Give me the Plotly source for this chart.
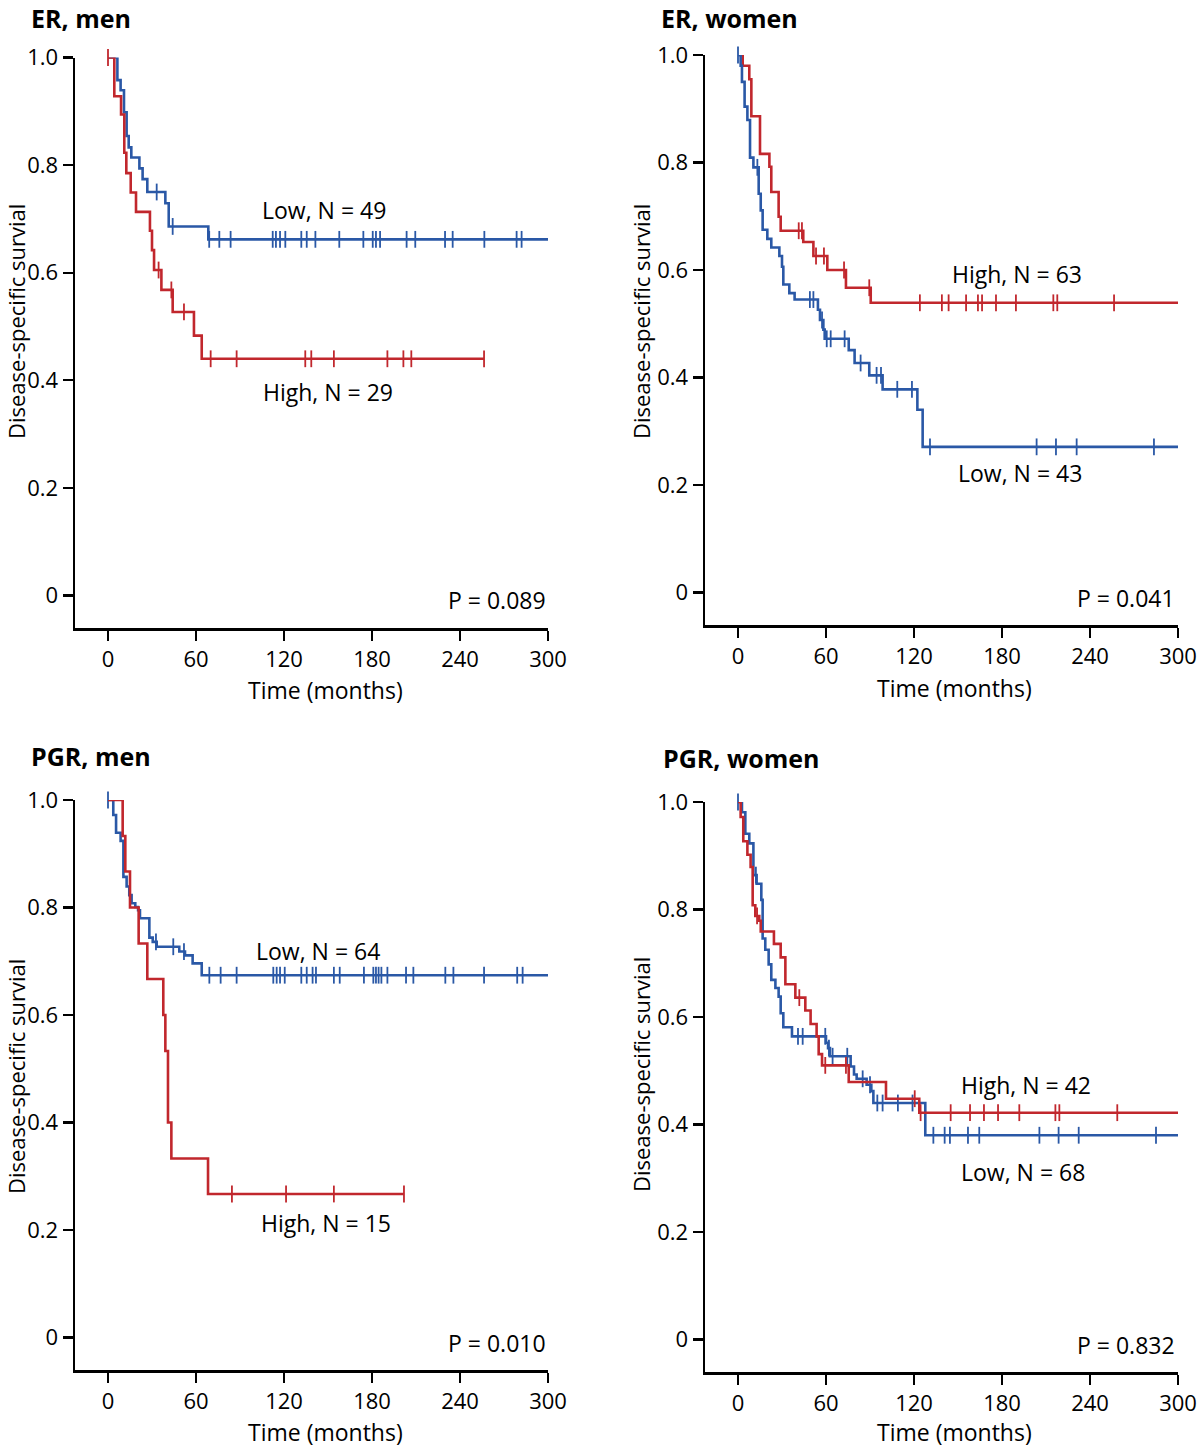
import bisect
import plotly.graph_objects as go

# ---------------- data ----------------
# ER, men
er_men_low_t = [0, 6.4, 8.6, 10.9, 12.7, 14.1, 15.9, 21.4, 23.6, 26.8, 39.1, 41.4, 68.4, 300]
er_men_low_s = [1.0, 0.958, 0.939, 0.898, 0.854, 0.833, 0.814, 0.794, 0.774, 0.750, 0.729, 0.686, 0.662, 0.662]
er_men_low_c = [33.2, 44.1, 69, 75.9, 83.6, 112.3, 114.5, 117.3, 120.9, 131.8, 135.5, 141.4, 157.7,
                174.1, 180.5, 182.7, 185.5, 203.6, 209.5, 229.8, 235, 256.6, 278.6, 282]
er_men_high_t = [0, 4.3, 8.9, 11.1, 12.5, 15.5, 19.1, 28.6, 30.0, 31.4, 36.4, 44.1, 58.6, 63.9, 256.4]
er_men_high_s = [1.0, 0.928, 0.894, 0.823, 0.785, 0.749, 0.713, 0.678, 0.642, 0.605, 0.568, 0.527, 0.483, 0.440, 0.440]
er_men_high_c = [0, 34.5, 43.2, 51.8, 70, 87.7, 134.5, 138.6, 154, 190.5, 201.4, 206.8, 256.4]

# ER, women
er_women_high_t = [0, 3.2, 7.7, 9.1, 15.0, 21.4, 22.7, 27.7, 29.1, 44.5, 51.4, 60.9, 73.6, 90.5, 300]
er_women_high_s = [1.0, 0.980, 0.955, 0.886, 0.816, 0.792, 0.745, 0.699, 0.673, 0.652, 0.626, 0.600, 0.567, 0.539, 0.539]
er_women_high_c = [41.4, 43.6, 53.2, 58.6, 72.3, 89.5, 124, 139, 143.6, 155.5, 163.6, 166.4, 175.9,
                   189.5, 215, 217.7, 256.4]
er_women_low_t = [0, 1.8, 2.7, 4.5, 6.4, 8.2, 10.5, 14.1, 15.5, 16.8, 20.0, 22.7, 28.2, 30.0, 30.9, 35.0,
                  38.6, 54.5, 55.9, 58.2, 59.1, 75.5, 79.5, 89.5, 98.6, 122.3, 125.9, 300]
er_women_low_s = [1.0, 0.980, 0.950, 0.904, 0.879, 0.809, 0.791, 0.742, 0.711, 0.675, 0.658, 0.642, 0.626,
                  0.606, 0.573, 0.557, 0.545, 0.526, 0.507, 0.489, 0.472, 0.451, 0.427, 0.404, 0.378,
                  0.340, 0.271, 0.271]
er_women_low_c = [0, 13.2, 49, 51.4, 57.3, 60.5, 63.2, 72.7, 83.6, 94.5, 97.5, 108.6, 118.6, 130.9,
                  203.6, 216.8, 230.9, 283.6]

# PGR, men
pgr_men_low_t = [0, 3.6, 5.5, 8.6, 10.5, 12.7, 14.5, 16.1, 18.6, 20.5, 21.8, 28.2, 30.5, 33.2, 48.6,
                 52.5, 57.7, 63.9, 300]
pgr_men_low_s = [1.0, 0.972, 0.939, 0.924, 0.857, 0.839, 0.823, 0.808, 0.801, 0.795, 0.780, 0.744,
                 0.736, 0.727, 0.718, 0.711, 0.696, 0.674, 0.674]
pgr_men_low_c = [0, 32.7, 44.5, 51.8, 69.1, 76.8, 87.7, 112.7, 115, 117.3, 120.5, 131.8, 135.5, 139.5,
                 141.8, 154, 158, 174.5, 180.9, 182.7, 184.5, 186.4, 190.5, 203.2, 208.2, 230, 235.5,
                 256.4, 279, 282.7]
pgr_men_high_t = [0, 10.0, 11.8, 15.0, 20.9, 26.8, 37.7, 39.1, 40.9, 43.2, 68.2, 201.8]
pgr_men_high_s = [1.0, 0.933, 0.867, 0.800, 0.733, 0.667, 0.600, 0.533, 0.400, 0.333, 0.267, 0.267]
pgr_men_high_c = [84.5, 121.4, 154, 201.8]

# PGR, women
pgr_women_high_t = [0, 1.8, 3.6, 6.4, 8.6, 10.0, 11.8, 14.5, 15.5, 24.5, 29.1, 32.3, 39.1, 45.9, 49.5,
                    53.6, 55.0, 57.3, 75.5, 100.9, 123.6, 300]
pgr_women_high_s = [1.0, 0.972, 0.927, 0.902, 0.879, 0.808, 0.788, 0.779, 0.759, 0.736, 0.711, 0.661,
                    0.636, 0.612, 0.587, 0.564, 0.531, 0.510, 0.479, 0.448, 0.422, 0.422]
pgr_women_high_c = [13, 41.8, 59.5, 73.6, 120.5, 124.5, 145, 158.2, 167.7, 177.3, 191.8, 216.4, 219.1,
                    258.6]
pgr_women_low_t = [0, 2.7, 5.0, 7.7, 10.5, 12.7, 15.9, 16.8, 18.6, 20.9, 22.7, 25.5, 27.7, 29.1, 30.9,
                   36.8, 60.0, 61.4, 62.7, 76.8, 79.1, 80.9, 87.7, 90.9, 92.3, 127.7, 300]
pgr_women_low_s = [1.0, 0.981, 0.941, 0.923, 0.864, 0.848, 0.818, 0.746, 0.725, 0.698, 0.669, 0.654,
                   0.638, 0.607, 0.581, 0.564, 0.552, 0.542, 0.527, 0.508, 0.493, 0.485, 0.474, 0.462,
                   0.440, 0.380, 0.380]
pgr_women_low_c = [0, 12.2, 40.9, 44.1, 59.5, 62, 64.5, 74.5, 85, 90, 95, 98.6, 109, 119, 133.2, 140.9,
                   144.5, 156.8, 164.5, 205.5, 218.6, 232.3, 285]

panel_titles = ["ER, men", "ER, women", "PGR, men", "PGR, women"]
p_values = ["P = 0.089", "P = 0.041", "P = 0.010", "P = 0.832"]
x_ticks = [0, 60, 120, 180, 240, 300]
y_ticks = [0, 0.2, 0.4, 0.6, 0.8, 1.0]
y_tick_text = ["0", "0.2", "0.4", "0.6", "0.8", "1.0"]

RED = "#C1272D"
BLUE = "#2A58A6"
FONT = "Open Sans, Noto Sans, sans-serif"
W, H = 1200, 1448


def fx(px):
    return px / W


def fy(py):
    return 1 - py / H


# title: (left x, top y); ylab: (left x, centre y)
panels = [
    dict(curves=[(er_men_low_t, er_men_low_s, er_men_low_c, BLUE),
                 (er_men_high_t, er_men_high_s, er_men_high_c, RED)],
         box=(75, 548, 57.5, 628), labels=[("Low, N = 49", 324, 210), ("High, N = 29", 328, 392)],
         title=(30, 0), ylab=(0, 322), xlab=(325, 690), p=(548, 600)),
    dict(curves=[(er_women_high_t, er_women_high_s, er_women_high_c, RED),
                 (er_women_low_t, er_women_low_s, er_women_low_c, BLUE)],
         box=(705, 1178, 55, 625), labels=[("High, N = 63", 1017, 274), ("Low, N = 43", 1020, 473)],
         title=(660, 0), ylab=(625, 322), xlab=(954, 688), p=(1177, 598)),
    dict(curves=[(pgr_men_low_t, pgr_men_low_s, pgr_men_low_c, BLUE),
                 (pgr_men_high_t, pgr_men_high_s, pgr_men_high_c, RED)],
         box=(75, 548, 800, 1370), labels=[("Low, N = 64", 318, 951), ("High, N = 15", 326, 1223)],
         title=(30, 738), ylab=(0, 1077), xlab=(325, 1432), p=(548, 1343)),
    dict(curves=[(pgr_women_low_t, pgr_women_low_s, pgr_women_low_c, BLUE),
                 (pgr_women_high_t, pgr_women_high_s, pgr_women_high_c, RED)],
         box=(705, 1178, 802, 1372), labels=[("High, N = 42", 1026, 1085), ("Low, N = 68", 1023, 1172)],
         title=(662, 740), ylab=(625, 1075), xlab=(955, 1432), p=(1177, 1345)),
]


def step_value(ts, ss, t):
    i = bisect.bisect_right(ts, t) - 1
    return ss[max(i, 0)]


fig = go.Figure()
annotations = []
layout = {}

for k, pn in enumerate(panels):
    idx = "" if k == 0 else str(k + 1)
    xa, ya = "x" + idx, "y" + idx
    for ts, ss, cs, col in pn["curves"]:
        fig.add_trace(go.Scatter(x=ts, y=ss, mode="lines", line=dict(color=col, width=2.6, shape="hv"),
                                 xaxis=xa, yaxis=ya, showlegend=False, cliponaxis=False,
                                 hoverinfo="skip"))
        fig.add_trace(go.Scatter(x=cs, y=[step_value(ts, ss, c) for c in cs], mode="markers",
                                 marker=dict(symbol="line-ns-open", size=12, color=col,
                                             line=dict(color=col, width=1.8)),
                                 xaxis=xa, yaxis=ya, showlegend=False, cliponaxis=False,
                                 hoverinfo="skip"))
    x0, x1, ytop, ybot = pn["box"]
    zero_px = ybot - 32.5
    ymin = -(ybot - zero_px) / (zero_px - ytop)
    t0_px = x0 + 33
    xmin = -(t0_px - x0) * 300 / (x1 - t0_px)
    layout["xaxis" + idx] = dict(
        domain=[fx(x0), fx(x1)], range=[xmin, 300], anchor=ya, tickvals=x_ticks, automargin=False,
        ticks="outside", ticklen=10, tickwidth=2.2, tickcolor="black", showline=True, linecolor="black",
        linewidth=2.5, showgrid=False, zeroline=False, fixedrange=True,
        tickfont=dict(family=FONT, size=22, color="black"))
    layout["yaxis" + idx] = dict(
        domain=[fy(ybot), fy(ytop)], range=[ymin, 1.0], anchor=xa, tickvals=y_ticks,
        ticktext=y_tick_text, ticks="outside", ticklen=10, tickwidth=2.2, tickcolor="black",
        showline=True, linecolor="black", linewidth=2.5, showgrid=False, zeroline=False,
        automargin=False, fixedrange=True, tickfont=dict(family=FONT, size=22, color="black"))
    for txt, lx, ly in pn["labels"]:
        annotations.append(dict(text=txt, x=fx(lx), y=fy(ly), xref="paper", yref="paper",
                                showarrow=False, xanchor="center", yanchor="middle",
                                font=dict(family=FONT, size=23, color="black")))
    tx, ty = pn["title"]
    annotations.append(dict(text="<b>" + panel_titles[k] + "</b>", x=fx(tx), y=fy(ty),
                            xref="paper", yref="paper", showarrow=False, xanchor="left",
                            yanchor="top", borderpad=0,
                            font=dict(family=FONT, size=25, color="black")))
    lx, ly = pn["ylab"]
    annotations.append(dict(text="Disease-specific survial", x=fx(lx), y=fy(ly), xref="paper",
                            yref="paper", showarrow=False, textangle=-90, xanchor="left",
                            yanchor="middle", borderpad=0,
                            font=dict(family=FONT, size=22, color="black")))
    lx, ly = pn["xlab"]
    annotations.append(dict(text="Time (months)", x=fx(lx), y=fy(ly), xref="paper",
                            yref="paper", showarrow=False, xanchor="center", yanchor="middle",
                            font=dict(family=FONT, size=23, color="black")))
    px_, py_ = pn["p"]
    annotations.append(dict(text=p_values[k], x=fx(px_), y=fy(py_), xref="paper",
                            yref="paper", showarrow=False, xanchor="right", yanchor="middle",
                            font=dict(family=FONT, size=23, color="black")))

fig.update_layout(width=W, height=H, margin=dict(l=0, r=0, t=0, b=0, autoexpand=False),
                  plot_bgcolor="white", paper_bgcolor="white", annotations=annotations,
                  hovermode=False, dragmode=False, **layout)
fig.write_html("out.html", config={"displayModeBar": False, "staticPlot": True},
               post_script="document.body.style.margin='0px';document.body.style.overflow='hidden';")
